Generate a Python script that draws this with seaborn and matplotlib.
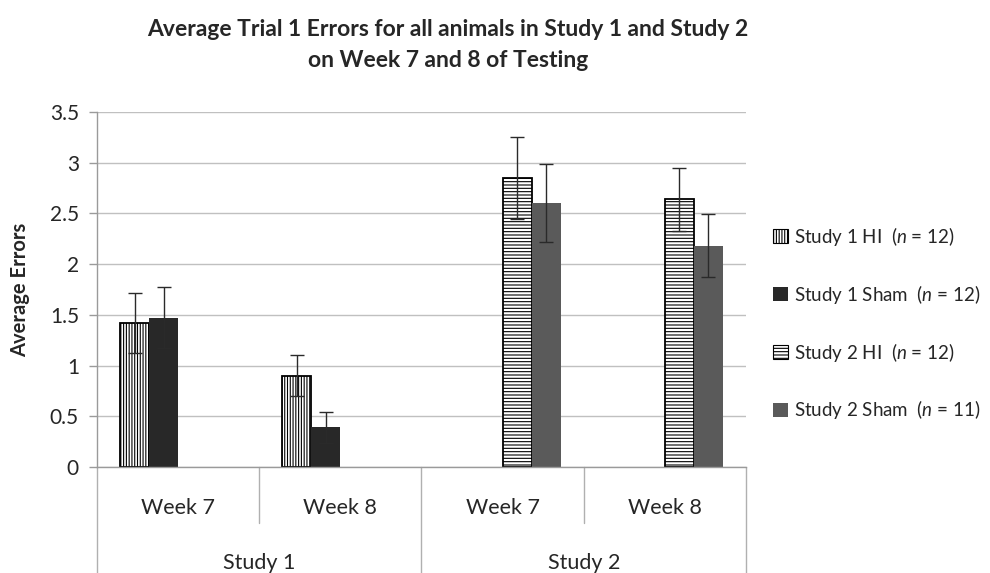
import numpy as np
import pandas as pd
import matplotlib
matplotlib.use("Agg")
import matplotlib.pyplot as plt
from matplotlib.patches import Patch
import seaborn as sns

# ---- data -------------------------------------------------------------
studies = ["Study 1", "Study 1", "Study 2", "Study 2"]
weeks = ["Week 7", "Week 8", "Week 7", "Week 8"]
series = ["Study 1 HI", "Study 1 Sham", "Study 2 HI", "Study 2 Sham"]
series_n = [12, 12, 12, 11]

study1_hi = [1.42, 0.90]
study1_hi_err = [0.30, 0.20]
study1_sham = [1.47, 0.39]
study1_sham_err = [0.30, 0.15]
study2_hi = [2.85, 2.64]
study2_hi_err = [0.40, 0.31]
study2_sham = [2.60, 2.18]
study2_sham_err = [0.385, 0.31]

# ---- table ------------------------------------------------------------
cats = [f"{s} {w}" for s, w in zip(studies, weeks)]
rows = []
for cat_idx, vals, errs, name in [
    ((0, 1), study1_hi, study1_hi_err, series[0]),
    ((0, 1), study1_sham, study1_sham_err, series[1]),
    ((2, 3), study2_hi, study2_hi_err, series[2]),
    ((2, 3), study2_sham, study2_sham_err, series[3]),
]:
    for ci, v, e in zip(cat_idx, vals, errs):
        rows.append({"cat": cats[ci], "series": name, "value": v, "err": e})
df = pd.DataFrame(rows)

# ---- style ------------------------------------------------------------
sns.set_theme(style="white")
plt.rcParams["font.family"] = ["Lato", "DejaVu Sans"]
plt.rcParams["mathtext.fontset"] = "custom"
plt.rcParams["mathtext.it"] = "Lato:italic"
plt.rcParams["mathtext.rm"] = "Lato"
plt.rcParams["hatch.linewidth"] = 0.8

colors = {"Study 1 HI": "white", "Study 1 Sham": "#282828",
          "Study 2 HI": "white", "Study 2 Sham": "#5a5a5a"}
hatches = {"Study 1 HI": "||||||", "Study 1 Sham": "",
           "Study 2 HI": "-----", "Study 2 Sham": ""}

fig = plt.figure(figsize=(9.9, 5.73), dpi=100)
ax = fig.add_axes([0.098, 0.185, 0.6555, 0.6195])

sns.barplot(data=df, x="cat", y="value", hue="series", order=cats,
            hue_order=series, palette=colors, width=0.716, gap=0,
            errorbar=None, legend=False, ax=ax, saturation=1)

for container, name in zip(ax.containers, series):
    sub = df[df["series"] == name].set_index("cat").reindex(cats).dropna()
    for bar, (_, r) in zip(container, sub.iterrows()):
        if hatches[name]:
            bar.set_hatch(hatches[name])
            bar.set_edgecolor("black")
            bar.set_linewidth(1.3)
        else:
            bar.set_edgecolor(colors[name])
            bar.set_linewidth(0)
        xc = bar.get_x() + bar.get_width() / 2
        ax.errorbar(xc, r["value"], yerr=r["err"], fmt="none",
                    ecolor="#2a2a2a", elinewidth=1.0, capsize=5,
                    capthick=1.0, zorder=5)

# ---- axes -------------------------------------------------------------
ax.set_ylim(0, 3.5)
ax.set_xlim(-0.5, 3.5)
ax.set_yticks(np.arange(0, 3.51, 0.5))
ax.set_yticklabels(["0", "0.5", "1", "1.5", "2", "2.5", "3", "3.5"], fontsize=15)
ax.yaxis.grid(True, color="#c0c0c0", linewidth=1)
ax.set_axisbelow(True)
ax.tick_params(axis="y", left=True, length=6, color="#9a9a9a", width=1, pad=7)
ax.tick_params(axis="x", bottom=False, labelbottom=False)
for s in ["top", "right"]:
    ax.spines[s].set_visible(False)
for s in ["left", "bottom"]:
    ax.spines[s].set_color("#9a9a9a")
    ax.spines[s].set_linewidth(1)
ax.set_xlabel("")
ax.set_ylabel("Average Errors", fontsize=14.5, fontweight="bold", labelpad=14)

# two-level category axis
tr = ax.get_xaxis_transform()
for x in [0.5, 2.5]:
    ax.plot([x, x], [0, -0.158], transform=tr, color="#b0b0b0", lw=1, clip_on=False)
for x in [-0.5, 1.5, 3.5]:
    ax.plot([x, x], [0, -0.31], transform=tr, color="#b0b0b0", lw=1, clip_on=False)
for i, w in enumerate(weeks):
    ax.text(i, -0.115, w, transform=tr, ha="center", va="center", fontsize=15.5)
for xc, s in [(0.5, "Study 1"), (2.5, "Study 2")]:
    ax.text(xc, -0.27, s, transform=tr, ha="center", va="center", fontsize=15.5)

# title
fig.text(0.4525, 0.949, "Average Trial 1 Errors for all animals in Study 1 and Study 2",
         ha="center", va="center", fontsize=16.5, fontweight="bold")
fig.text(0.4525, 0.895, "on Week 7 and 8 of Testing",
         ha="center", va="center", fontsize=16.5, fontweight="bold")

# legend
handles = [Patch(facecolor=colors[s], hatch=hatches[s],
                 edgecolor="black" if hatches[s] else colors[s],
                 linewidth=0.8 if hatches[s] else 0) for s in series]
labels = [f"{s}  ($\\mathit{{n}}$ = {n})" for s, n in zip(series, series_n)]
fig.legend(handles, labels, loc="center left", bbox_to_anchor=(0.768, 0.436),
           frameon=False, fontsize=13.5, handlelength=0.75, handleheight=0.75,
           handletextpad=0.35, labelspacing=1.86, borderpad=0.2)

fig.savefig("out.png", dpi=100)
